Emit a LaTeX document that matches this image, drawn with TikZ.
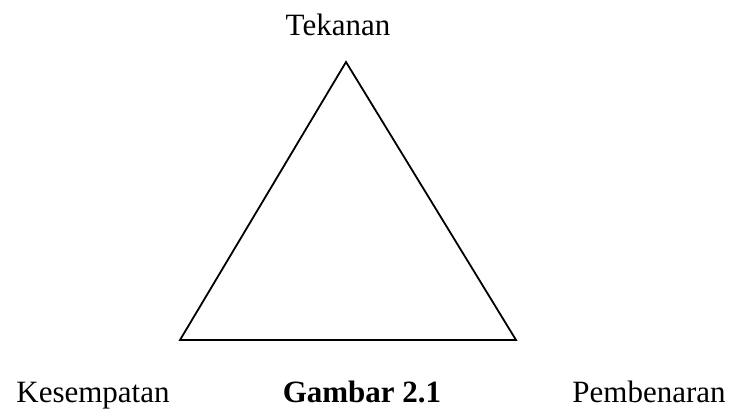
\documentclass[tikz,border=0pt]{standalone}
\usepackage{fontspec}
\setmainfont{Liberation Serif}
\usetikzlibrary{positioning}

\begin{document}
\begin{tikzpicture}[x=1pt, y=-1pt, line width=1.8pt]

  % Batas gambar
  \useasboundingbox (0,0) rectangle (733,409);

  % Titik sudut segitiga
  \coordinate (atas) at (346,62);
  \coordinate (kiri) at (180,340);
  \coordinate (kanan) at (516,340);

  % Segitiga
  \draw[line join=miter] (atas) -- (kiri) -- (kanan) -- cycle;

  % Label sudut (teks serif, ukuran besar)
  \node[anchor=base, inner sep=0pt, font=\fontsize{31}{36}\selectfont] (tekanan) at (338,36) {Tekanan};
  \node[anchor=base, inner sep=0pt, font=\fontsize{31}{36}\selectfont] (kesempatan) at (93,402) {Kesempatan};
  \node[anchor=base, inner sep=0pt, font=\fontsize{31}{36}\selectfont] (pembenaran) at (649,402) {Pembenaran};

  % Judul gambar
  \node[anchor=base, inner sep=0pt, font=\fontsize{31}{36}\selectfont\bfseries] (judul) at (362,402) {Gambar 2.1};

\end{tikzpicture}
\end{document}
